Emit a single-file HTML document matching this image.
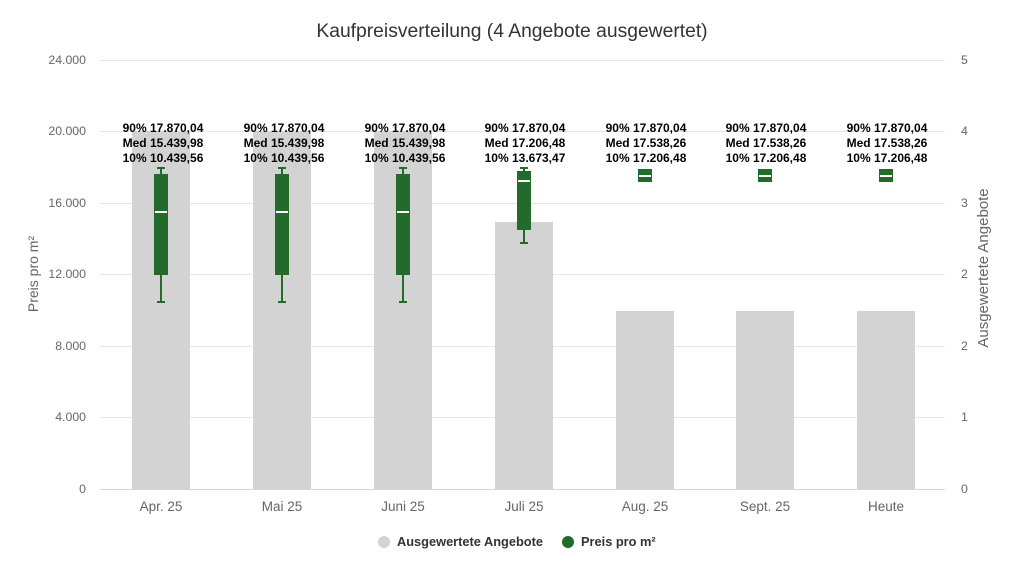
<!DOCTYPE html>
<html><head><meta charset="utf-8"><style>body{margin:0;background:#fff}</style></head><body>
<svg width="1024" height="576" xmlns="http://www.w3.org/2000/svg" font-family="Liberation Sans, sans-serif">
<rect width="1024" height="576" fill="#fff"/>
<text x="512" y="37" text-anchor="middle" font-size="19.3" fill="#333">Kaufpreisverteilung (4 Angebote ausgewertet)</text>
<g stroke="#e6e6e6" stroke-width="1">
<line x1="100" x2="945" y1="60.5" y2="60.5"/><line x1="100" x2="945" y1="131.5" y2="131.5"/>
<line x1="100" x2="945" y1="203.5" y2="203.5"/><line x1="100" x2="945" y1="274.5" y2="274.5"/>
<line x1="100" x2="945" y1="346.5" y2="346.5"/><line x1="100" x2="945" y1="417.5" y2="417.5"/>
</g>
<line x1="100" x2="945" y1="489.5" y2="489.5" stroke="#ccd6eb"/>
<g font-size="12.3" fill="#666" text-anchor="end">
<text x="86" y="64">24.000</text><text x="86" y="135">20.000</text><text x="86" y="207">16.000</text>
<text x="86" y="278">12.000</text><text x="86" y="350">8.000</text><text x="86" y="421">4.000</text><text x="86" y="493">0</text>
</g>
<g font-size="12.3" fill="#666">
<text x="961" y="64">5</text><text x="961" y="135">4</text><text x="961" y="207">3</text><text x="961" y="278">2</text>
<text x="961" y="350">2</text><text x="961" y="421">1</text><text x="961" y="493">0</text>
</g>
<text transform="translate(38,274) rotate(-90)" text-anchor="middle" font-size="14" fill="#666">Preis pro m²</text>
<text transform="translate(988,268) rotate(-90)" text-anchor="middle" font-size="15" fill="#666">Ausgewertete Angebote</text>
<g fill="#d3d3d3">
<rect x="132" y="131" width="58" height="358"/><rect x="253" y="131" width="58" height="358"/>
<rect x="374" y="131" width="58" height="358"/><rect x="495" y="222" width="58" height="267"/>
<rect x="616" y="311" width="58" height="178"/><rect x="736" y="311" width="58" height="178"/>
<rect x="857" y="311" width="58" height="178"/>
</g>
<g font-size="13.5" fill="#666" text-anchor="middle">
<text x="161" y="511">Apr. 25</text><text x="282" y="511">Mai 25</text><text x="403" y="511">Juni 25</text>
<text x="524" y="511">Juli 25</text><text x="645" y="511">Aug. 25</text><text x="765" y="511">Sept. 25</text><text x="886" y="511">Heute</text>
</g>
<g stroke="#236b2b" stroke-width="2" fill="#236b2b">
<g><line x1="161" x2="161" y1="168" y2="302"/><line x1="157" x2="165" y1="168" y2="168"/><line x1="157" x2="165" y1="302" y2="302"/><rect x="155" y="175" width="12" height="99"/><line x1="155" x2="167" y1="212" y2="212" stroke="#fff"/></g>
<g transform="translate(121,0)"><line x1="161" x2="161" y1="168" y2="302"/><line x1="157" x2="165" y1="168" y2="168"/><line x1="157" x2="165" y1="302" y2="302"/><rect x="155" y="175" width="12" height="99"/><line x1="155" x2="167" y1="212" y2="212" stroke="#fff"/></g>
<g transform="translate(242,0)"><line x1="161" x2="161" y1="168" y2="302"/><line x1="157" x2="165" y1="168" y2="168"/><line x1="157" x2="165" y1="302" y2="302"/><rect x="155" y="175" width="12" height="99"/><line x1="155" x2="167" y1="212" y2="212" stroke="#fff"/></g>
<g><line x1="524" x2="524" y1="168" y2="243"/><line x1="520" x2="528" y1="168" y2="168"/><line x1="520" x2="528" y1="243" y2="243"/><rect x="518" y="172" width="12" height="57"/><line x1="518" x2="530" y1="181" y2="181" stroke="#fff"/></g>
<g><rect x="639" y="170" width="12" height="11"/><line x1="639" x2="651" y1="176" y2="176" stroke="#fff"/></g>
<g transform="translate(120,0)"><rect x="639" y="170" width="12" height="11"/><line x1="639" x2="651" y1="176" y2="176" stroke="#fff"/></g>
<g transform="translate(241,0)"><rect x="639" y="170" width="12" height="11"/><line x1="639" x2="651" y1="176" y2="176" stroke="#fff"/></g>
</g>
<g font-size="12" font-weight="bold" fill="#000" text-anchor="middle">
<g><text x="163" y="132">90% 17.870,04</text><text x="163" y="147">Med 15.439,98</text><text x="163" y="162">10% 10.439,56</text></g>
<g transform="translate(121,0)"><text x="163" y="132">90% 17.870,04</text><text x="163" y="147">Med 15.439,98</text><text x="163" y="162">10% 10.439,56</text></g>
<g transform="translate(242,0)"><text x="163" y="132">90% 17.870,04</text><text x="163" y="147">Med 15.439,98</text><text x="163" y="162">10% 10.439,56</text></g>
<g><text x="525" y="132">90% 17.870,04</text><text x="525" y="147">Med 17.206,48</text><text x="525" y="162">10% 13.673,47</text></g>
<g><text x="646" y="132">90% 17.870,04</text><text x="646" y="147">Med 17.538,26</text><text x="646" y="162">10% 17.206,48</text></g>
<g><text x="766" y="132">90% 17.870,04</text><text x="766" y="147">Med 17.538,26</text><text x="766" y="162">10% 17.206,48</text></g>
<g><text x="887" y="132">90% 17.870,04</text><text x="887" y="147">Med 17.538,26</text><text x="887" y="162">10% 17.206,48</text></g>
</g>
<circle cx="384" cy="542" r="6" fill="#d3d3d3"/>
<text x="397" y="546" font-size="12.8" font-weight="bold" fill="#333">Ausgewertete Angebote</text>
<circle cx="568" cy="542" r="6" fill="#236b2b"/>
<text x="581" y="546" font-size="12.8" font-weight="bold" fill="#333">Preis pro m²</text>
</svg>
</body></html>
